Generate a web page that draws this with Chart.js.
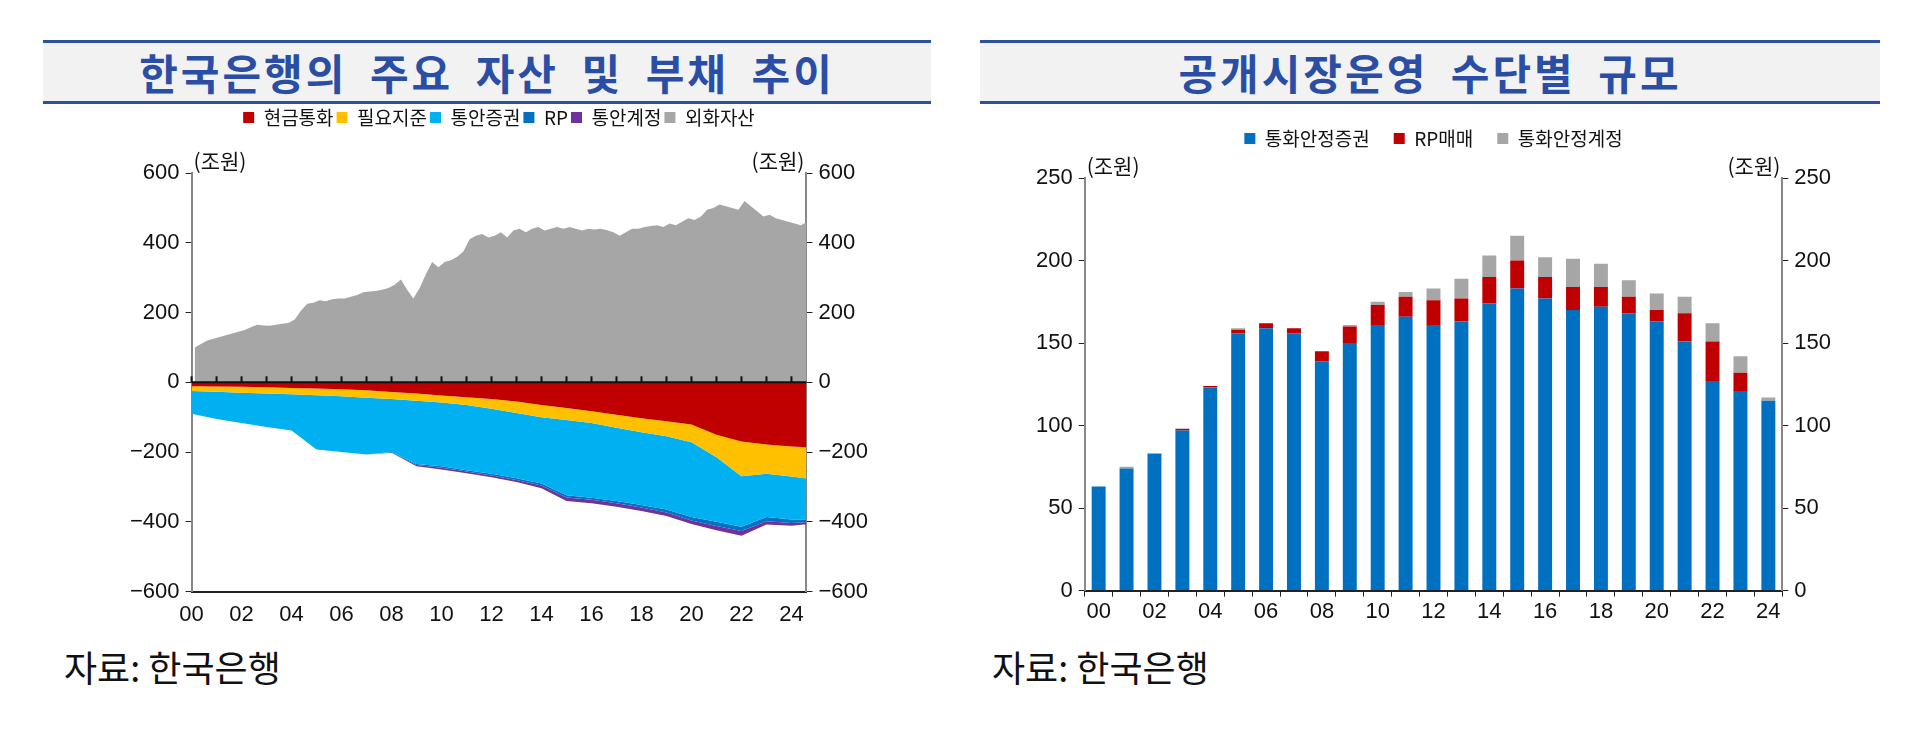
<!DOCTYPE html>
<html>
<head>
<meta charset="utf-8">
<script src="https://cdn.jsdelivr.net/npm/chart.js@4"></script>
<style>
body{margin:0;background:#fff;width:1920px;height:742px;position:relative;overflow:hidden;font-family:"Liberation Sans","Noto Sans CJK KR",sans-serif}
.title{position:absolute;top:40px;height:58px;background:#F2F2F2;border-top:3px solid #2F4F9F;border-bottom:3px solid #2F4F9F;color:#2A4EA6;font:bold 42px "Noto Sans CJK KR";text-align:center;line-height:58px;letter-spacing:3px;word-spacing:10px}
.src{position:absolute;top:640px;font:36px "Noto Sans CJK KR";color:#111}
canvas{position:absolute}
</style>
</head>
<body>
<div class="title" style="left:43px;width:888px">한국은행의 주요 자산 및 부채 추이</div>
<div class="title" style="left:980px;width:900px">공개시장운영 수단별 규모</div>
<div class="src" style="left:64px">자료: 한국은행</div>
<div class="src" style="left:992px">자료: 한국은행</div>
<div style="position:absolute;left:124px;top:105px;width:750px;height:525px"><canvas id="left"></canvas></div>
<div style="position:absolute;left:1030px;top:105px;width:807px;height:522px"><canvas id="right"></canvas></div>
<script>
// left chart: yearly liability layers (조원), 2000..2024 plus last obs
const liabYears = [2000,2001,2002,2003,2004,2005,2006,2007,2008,2009,2010,2011,2012,2013,2014,2015,2016,2017,2018,2019,2020,2021,2022,2023,2024,2024.6];
const cash    = [11,12,13,14,16,18,20,23,28,32,38,43,48,55,65,74,83,93,103,112,121,150,170,178,184,186];
const reserve = [14,15,17,18,18,19,20,21,20,21,20,22,28,33,35,34,34,37,40,43,51,65,99,84,86,90];
const msb     = [65,78,87,96,104,156,160,163,152,181,183,187,186,187,190,216,214,210,209,210,214,185,145,124,123,117];
const rp      = [0,0,0,0,0,0,0,0,2,3,4,4,5,5,6,6,6,7,7,8,10,12,12,12,10,8];
const msa     = [0,0,0,0,0,0,0,0,0,4,5,5,5,6,8,10,10,10,10,10,10,12,14,10,8,6];
// foreign assets, quarterly 2000Q1..2024Q4
const fxAssets = [100,110,120,125, 130,135,140,145, 150,158,165,163, 162,165,168,170,
  180,205,225,228, 235,232,238,240, 240,245,250,258, 260,262,265,270, 280,295,265,240,
  270,310,345,330, 345,350,360,375, 410,420,425,415, 420,430,415,435, 440,430,440,445,
  435,440,445,440, 445,440,435,440, 438,440,436,430, 420,430,440,440, 445,448,450,445,
  455,450,460,470, 465,475,495,500, 510,505,500,495, 520,505,490,475, 480,470,465,460,
  455,450,460,480];
const leftTicks = [-600,-400,-200,0,200,400,600];

// right chart: open market operation instruments (조원)
const omoYears = ['00','01','02','03','04','05','06','07','08','09','10','11','12','13','14','15','16','17','18','19','20','21','22','23','24'];
const omoMsb = [63,74,83,97,123,156,159,156,139,150,161,166,161,163,174,183,177,170,172,168,163,151,127,121,115];
const omoRp  = [0,0,0,1,1,2,3,3,6,10,12,12,15,14,16,17,13,14,12,10,7,17,24,11,0];
const omoMsa = [0,1,0,0,0,1,0,0,0,1,2,3,7,12,13,15,12,17,14,10,10,10,11,10,2];

const FONT = '"Liberation Sans","Noto Sans CJK KR",sans-serif';
Chart.defaults.font.family = FONT;
Chart.defaults.color = '#111';
Chart.defaults.animation = false;

const unitLabel = {
  id: 'unitLabel',
  afterDraw(chart){
    const {ctx, chartArea} = chart;
    ctx.save();
    ctx.font = '21px "Noto Sans CJK KR"';
    ctx.fillStyle = '#111';
    ctx.textBaseline = 'bottom';
    ctx.textAlign = 'left';
    ctx.fillText('(조원)', chartArea.left + 2, chartArea.top - 1);
    ctx.textAlign = 'right';
    ctx.fillText('(조원)', chartArea.right - 2, chartArea.top - 1);
    ctx.restore();
  }
};

// push plot area down below the legend
function legendGap(extra){
  return {
    id: 'legendGap',
    beforeInit(chart){
      const fit = chart.legend.fit;
      chart.legend.fit = function(){ fit.bind(chart.legend)(); this.height += extra; };
    }
  };
}

function pts(xs, ys, sign){ return ys.map((v,i) => ({x: xs[i], y: sign*v})); }
const fxX = fxAssets.map((v,i) => 2000 + i*0.25 + 0.125);

function area(label, color, data, fill){
  return {label, data, backgroundColor: color, borderColor: color, borderWidth: 0,
    pointRadius: 0, fill, stack: label==='외화자산' ? 'pos' : 'neg', tension: 0};
}

function minus(v){ return v < 0 ? '−' + Math.abs(v) : String(v); }

const legendOpts = {
  display: true, position: 'top',
  labels: {boxWidth: 11, boxHeight: 11, padding: 6, font: {size: 19, family: '"Noto Sans CJK KR"'}, color: '#111'}
};
const tickFont = {size: 22};

new Chart('left', {
  type: 'line',
  data: {
    datasets: [
      area('현금통화', '#C00000', pts(liabYears, cash, -1), 'origin'),
      area('필요지준', '#FFC000', pts(liabYears, reserve, -1), '-1'),
      area('통안증권', '#00B0F0', pts(liabYears, msb, -1), '-1'),
      area('RP', '#0070C0', pts(liabYears, rp, -1), '-1'),
      area('통안계정', '#7030A0', pts(liabYears, msa, -1), '-1'),
      area('외화자산', '#A6A6A6', pts(fxX, fxAssets, 1), 'origin')
    ]
  },
  options: {
    responsive: true, maintainAspectRatio: false,
    plugins: {legend: {...legendOpts, labels: {...legendOpts.labels, padding: 3}}, tooltip: {enabled: false}},
    scales: {
      x: {type: 'linear', min: 2000, max: 2024.6,
        afterBuildTicks: a => { a.ticks = [0,2,4,6,8,10,12,14,16,18,20,22,24].map(y => ({value: 2000+y})); },
        ticks: {font: tickFont, callback: v => String(v-2000).padStart(2,'0'), maxRotation: 0, padding: 2},
        grid: {display: false}, border: {color: '#222', width: 2}},
      y: {stacked: true, min: -600, max: 600,
        afterBuildTicks: a => { a.ticks = leftTicks.map(v => ({value: v})); },
        ticks: {font: tickFont, callback: minus, padding: 6},
        grid: {display: true, drawOnChartArea: false, tickLength: 6, color: '#222'}, border: {color: '#888', width: 2}},
      y2: {position: 'right', min: -600, max: 600,
        afterBuildTicks: a => { a.ticks = leftTicks.map(v => ({value: v})); },
        ticks: {font: tickFont, callback: minus, padding: 6},
        grid: {display: true, drawOnChartArea: false, tickLength: 6, color: '#222'}, border: {color: '#888', width: 2}}
    }
  },
  plugins: [unitLabel, legendGap(36), {
    id: 'zeroLine',
    afterDatasetsDraw(chart){
      const {ctx, chartArea, scales} = chart;
      const y0 = scales.y.getPixelForValue(0);
      ctx.save();
      ctx.strokeStyle = '#111'; ctx.lineWidth = 2;
      ctx.beginPath(); ctx.moveTo(chartArea.left, y0); ctx.lineTo(chartArea.right, y0); ctx.stroke();
      for (let yr = 2000; yr <= 2024; yr++) {
        const x = scales.x.getPixelForValue(yr);
        ctx.beginPath(); ctx.moveTo(x, y0); ctx.lineTo(x, y0 - 6); ctx.stroke();
      }
      ctx.restore();
    }
  }]
});

new Chart('right', {
  type: 'bar',
  data: {
    labels: omoYears,
    datasets: [
      {label: '통화안정증권', data: omoMsb, backgroundColor: '#0070C0'},
      {label: 'RP매매', data: omoRp, backgroundColor: '#C00000'},
      {label: '통화안정계정', data: omoMsa, backgroundColor: '#A6A6A6'}
    ]
  },
  options: {
    responsive: true, maintainAspectRatio: false,
    datasets: {bar: {barPercentage: 0.5, categoryPercentage: 1}},
    plugins: {legend: {...legendOpts, labels: {...legendOpts.labels, padding: 24}}, tooltip: {enabled: false}},
    scales: {
      x: {stacked: true,
        ticks: {font: tickFont, autoSkip: false, maxRotation: 0, padding: 2,
          callback: (v,i) => i % 2 === 0 ? omoYears[i] : ''},
        grid: {display: true, drawOnChartArea: false, offset: true, tickLength: 6, color: '#222'},
        border: {color: '#222', width: 2}},
      y: {stacked: true, min: 0, max: 250,
        ticks: {font: tickFont, stepSize: 50, padding: 6},
        grid: {display: true, drawOnChartArea: false, tickLength: 6, color: '#222'}, border: {color: '#888', width: 2}},
      y2: {position: 'right', min: 0, max: 250,
        ticks: {font: tickFont, stepSize: 50, padding: 6},
        grid: {display: true, drawOnChartArea: false, tickLength: 6, color: '#222'}, border: {color: '#888', width: 2}}
    }
  },
  plugins: [unitLabel, legendGap(20)]
});
</script>
</body>
</html>
